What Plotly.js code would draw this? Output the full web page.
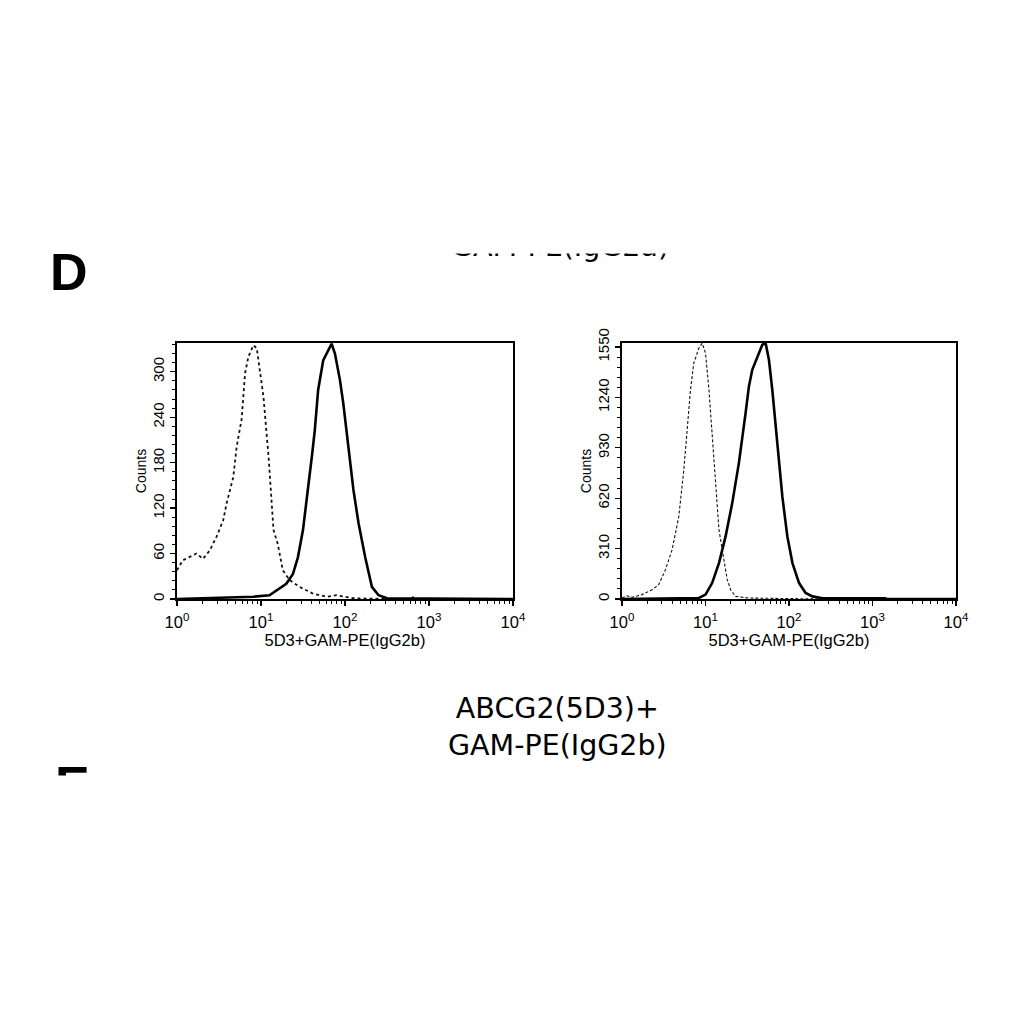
<!DOCTYPE html>
<html>
<head>
<meta charset="utf-8">
<script src="https://cdn.plot.ly/plotly-3.0.1.min.js"></script>
<style>html,body{margin:0;padding:0;background:#fff;}#chart{width:1024px;height:1024px;}</style>
</head>
<body>
<div id="chart"></div>
<script>
// ---- data ----
// Left panel
const isoL_x = [1.0, 1.17, 1.70, 2.04, 2.45, 2.95, 3.55, 3.89, 4.68, 5.13, 5.89, 6.46, 7.08, 8.13, 8.91, 9.77, 10.7, 12.3, 13.5, 14.1, 15.8, 18.2, 21.9, 28.8, 41.7, 60.3, 79.4, 126, 316, 603, 661, 724, 10000];
const isoL_y = [38, 51, 60, 53, 64, 82, 104, 126, 161, 201, 238, 298, 320, 335, 331, 298, 267, 188, 122, 91, 73, 38, 25, 16, 7, 3, 5, 1, 0, 0, 3, 0, 0];
const posL_x = [1.0, 3.2, 8.1, 12.6, 16.6, 20.0, 24.0, 27.5, 31.6, 36.3, 40.7, 43.7, 47.9, 55.0, 63.1, 69.2, 75.9, 87.1, 95.5, 110, 126, 145, 174, 209, 251, 316, 10000];
const posL_y = [0, 2, 3, 5, 14, 20, 33, 55, 91, 144, 192, 223, 276, 315, 329, 337, 324, 289, 258, 196, 144, 100, 55, 16, 5, 1, 0];
// Right panel
const isoR_x = [1.0, 1.15, 1.32, 1.74, 2.29, 2.75, 3.31, 3.98, 4.79, 5.50, 6.03, 6.61, 7.24, 8.32, 9.12, 10.0, 11.0, 12.0, 13.2, 14.5, 16.6, 18.2, 20.0, 22.9, 33.1, 83.2, 229, 10000];
const isoR_y = [6, 20, 10, 27, 57, 88, 180, 303, 508, 795, 1041, 1287, 1451, 1543, 1574, 1513, 1287, 1000, 734, 426, 242, 119, 57, 16, 6, 4, 0, 0];
const posR_x = [1.0, 8.32, 10.0, 12.0, 14.5, 17.4, 20.9, 25.1, 30.2, 33.1, 36.3, 41.7, 47.9, 52.5, 57.5, 63.1, 69.2, 75.9, 83.2, 95.5, 110, 132, 158, 191, 251, 1410, 1500, 10000];
const posR_y = [0, 6, 27, 98, 221, 385, 590, 836, 1144, 1308, 1410, 1492, 1564, 1574, 1472, 1287, 1062, 836, 631, 385, 221, 98, 37, 16, 4, 4, 0, 0];

const xTickVals = [1, 10, 100, 1000, 10000];
const xTickText = ['10<sup>0</sup>', '10<sup>1</sup>', '10<sup>2</sup>', '10<sup>3</sup>', '10<sup>4</sup>'];
const yTicksL = [0, 60, 120, 180, 240, 300];
const yTicksR = [0, 310, 620, 930, 1240, 1550];
const xTitle = '5D3+GAM-PE(IgG2b)';
const yTitle = 'Counts';
const panelTitle = 'ABCG2(5D3)+<br>GAM-PE(IgG2b)';
const topCutText = 'GAM-PE(IgG2a)';

// ---- styling ----
const SANS = 'Liberation Sans, Arial, sans-serif';
const W = 1024, H = 1024;
const px = v => v / W;
const py = v => 1 - v / H;

const traces = [
  {x: isoL_x, y: isoL_y, xaxis: 'x', yaxis: 'y', mode: 'lines', line: {color: '#111', width: 1.8, dash: 'dot'}, hoverinfo: 'skip'},
  {x: posL_x, y: posL_y, xaxis: 'x', yaxis: 'y', mode: 'lines', line: {color: '#000', width: 2.6}, hoverinfo: 'skip'},
  {x: isoR_x, y: isoR_y, xaxis: 'x2', yaxis: 'y2', mode: 'lines', line: {color: '#111', width: 1.1, dash: '3px,2px'}, hoverinfo: 'skip'},
  {x: posR_x, y: posR_y, xaxis: 'x2', yaxis: 'y2', mode: 'lines', line: {color: '#000', width: 2.6}, hoverinfo: 'skip'}
];

function xAxis(domain, anchor) {
  return {
    type: 'log', range: [0, 4], domain: domain, anchor: anchor,
    showline: true, linecolor: '#000', linewidth: 1.6, mirror: true,
    showgrid: false, zeroline: false,
    ticks: 'outside', ticklen: 5, tickwidth: 1.3, tickcolor: '#000',
    tickmode: 'array', tickvals: xTickVals, ticktext: xTickText,
    ticklabelstandoff: 3,
    tickfont: {family: SANS, size: 16.5, color: '#000'},
    minor: {ticks: 'outside', ticklen: 3, tickwidth: 1, tickcolor: '#000', dtick: 'D1', showgrid: false},
    title: {text: xTitle, font: {family: SANS, size: 16.5, color: '#000'}, standoff: 1}
  };
}
function yAxis(domain, anchor, range, vals) {
  return {
    range: range, domain: domain, anchor: anchor,
    showline: true, linecolor: '#000', linewidth: 1.6, mirror: true,
    showgrid: false, zeroline: false,
    ticks: 'outside', ticklen: 5, tickwidth: 1.3, tickcolor: '#000',
    tickmode: 'array', tickvals: vals, tickangle: -90,
    tickfont: {family: SANS, size: 15, color: '#000'},
    minor: {ticks: 'outside', ticklen: 3, tickwidth: 1, tickcolor: '#000', dtick: vals[1] / 5, showgrid: false},
    title: {text: yTitle, font: {family: SANS, size: 14, color: '#000'}, standoff: 0}
  };
}

const yDom = [py(599), py(343)];
const layout = {
  width: W, height: H,
  margin: {l: 0, r: 0, t: 0, b: 0},
  paper_bgcolor: '#fff', plot_bgcolor: '#fff',
  font: {family: SANS, size: 15, color: '#000'},
  showlegend: false,
  xaxis: xAxis([px(177), px(513)], 'y'),
  yaxis: yAxis(yDom, 'x', [0, 338], yTicksL),
  xaxis2: xAxis([px(622), px(956)], 'y2'),
  yaxis2: yAxis(yDom, 'x2', [0, 1575], yTicksR),
  annotations: [
    {text: 'D', xref: 'paper', yref: 'paper', x: px(69), y: py(272), xanchor: 'center', yanchor: 'middle', showarrow: false,
     font: {family: SANS, size: 52, weight: 'bold', color: '#000'}},
    {text: panelTitle, xref: 'paper', yref: 'paper', x: px(557), y: py(727), xanchor: 'center', yanchor: 'middle', showarrow: false,
     font: {family: 'DejaVu Sans, sans-serif', size: 28.5, color: '#000'}},
    {text: topCutText, xref: 'paper', yref: 'paper', x: px(560), y: py(265), xanchor: 'center', yanchor: 'bottom', showarrow: false,
     font: {family: 'DejaVu Sans, sans-serif', size: 28.5, color: '#000'}},
    {text: ' ', xref: 'paper', yref: 'paper', x: px(560), y: py(254), xanchor: 'center', yanchor: 'bottom', showarrow: false,
     width: 320, height: 60, bgcolor: '#fff', borderpad: 0},
    {text: 'E', xref: 'paper', yref: 'paper', x: px(53), y: py(754), xanchor: 'left', yanchor: 'top', showarrow: false,
     font: {family: SANS, size: 52, weight: 'bold', color: '#000'}},
    {text: ' ', xref: 'paper', yref: 'paper', x: px(40), y: py(775), xanchor: 'left', yanchor: 'top', showarrow: false,
     width: 80, height: 70, bgcolor: '#fff', borderpad: 0}
  ]
};

Plotly.newPlot('chart', traces, layout, {staticPlot: true, displayModeBar: false});
</script>
</body>
</html>
